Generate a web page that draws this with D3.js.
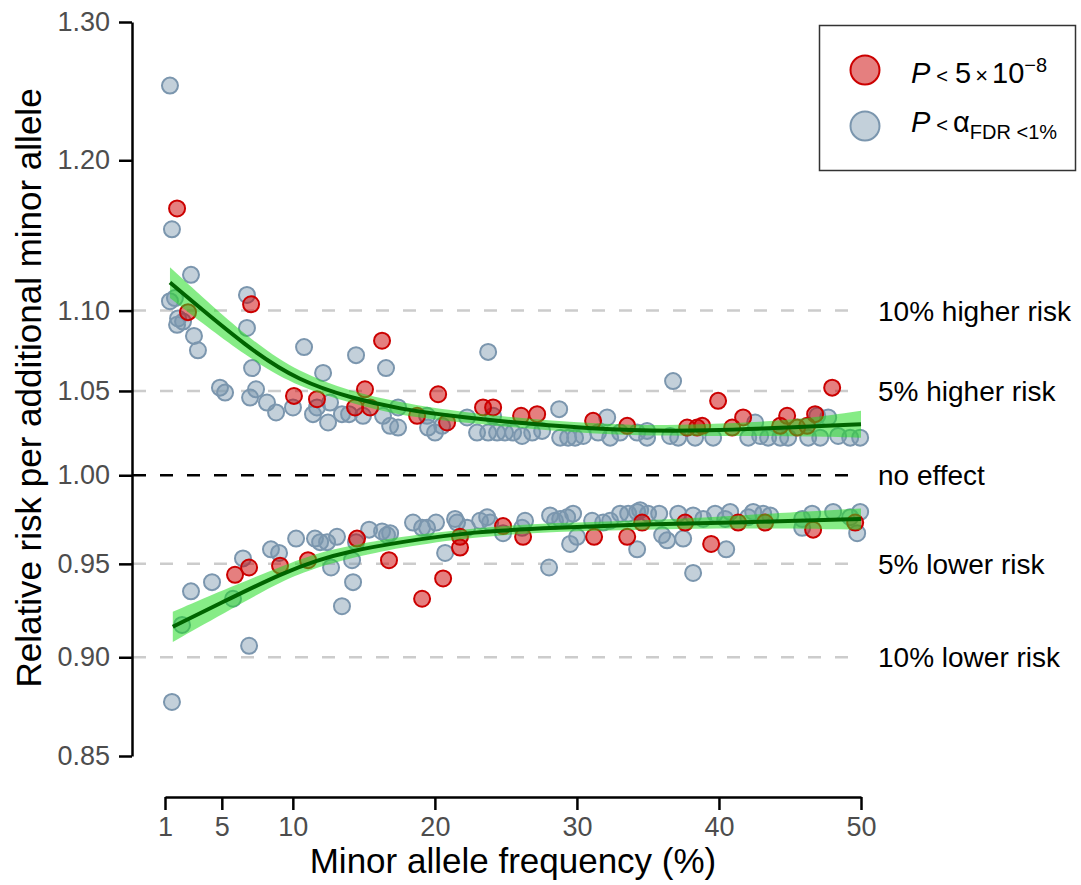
<!DOCTYPE html>
<html>
<head>
<meta charset="utf-8">
<script src="https://cdn.jsdelivr.net/npm/d3@7"></script>
<style>
body { margin: 0; background: #fff; }
text { font-family: "Liberation Sans", Arial, Helvetica, sans-serif; }
</style>
</head>
<body>
<svg class="chart" width="1081" height="885"></svg>
<script>

// points: [minor allele frequency %, relative risk]
var grayUpper = [
  [1.35,1.253],[1.49,1.153],[2.83,1.123],[1.35,1.106],[1.70,1.108],[1.92,1.095],[1.85,1.091],[2.27,1.093],
  [3.04,1.084],[3.32,1.075],[6.77,1.110],[6.77,1.089],[7.13,1.064],[10.79,1.077],[12.13,1.061],[14.45,1.072],
  [16.56,1.064],[4.87,1.052],[5.23,1.049],[6.99,1.046],[7.41,1.051],[8.18,1.043],[8.82,1.037],[10.01,1.040],
  [11.42,1.036],[11.70,1.040],[12.48,1.031],[12.62,1.043],[13.46,1.036],[13.96,1.036],[14.94,1.035],[16.35,1.035],
  [16.85,1.029],[17.41,1.028],[17.41,1.040],[23.75,1.074],[19.45,1.035],[19.52,1.028],[20.01,1.025],[20.51,1.029],
  [22.27,1.034],[22.97,1.025],[24.10,1.035],[23.75,1.025],[24.38,1.025],[24.94,1.025],[25.51,1.025],[26.14,1.023],
  [26.85,1.025],[27.55,1.026],[28.75,1.039],[28.82,1.022],[29.38,1.022],[29.87,1.022],[30.44,1.023],[31.49,1.025],
  [32.13,1.034],[32.34,1.022],[33.04,1.025],[34.24,1.025],[34.94,1.026],[34.94,1.022],[36.77,1.056],[36.56,1.023],
  [37.13,1.022],[38.32,1.022],[39.59,1.022],[42.55,1.031],[42.06,1.022],[42.90,1.023],[43.46,1.022],[44.87,1.022],
  [44.31,1.022],[46.92,1.035],[47.69,1.034],[46.28,1.022],[47.13,1.022],[48.39,1.023],[49.24,1.022],[49.94,1.022]
];

var redUpper = [
  [1.85,1.167],[2.62,1.099],[7.06,1.104],[16.28,1.081],[15.08,1.051],[10.08,1.047],[11.70,1.045],[14.38,1.040],
  [15.44,1.040],[20.23,1.048],[18.75,1.035],[20.86,1.031],[23.39,1.040],[24.10,1.040],[26.07,1.035],[27.20,1.036],
  [31.14,1.032],[33.54,1.029],[39.94,1.044],[37.76,1.028],[38.46,1.028],[38.82,1.029],[40.93,1.028],[41.70,1.034],
  [44.31,1.029],[44.80,1.035],[45.51,1.028],[46.77,1.036],[47.97,1.052],[46.21,1.029]
];

var grayLower = [
  [1.49,0.877],[2.20,0.917],[2.83,0.935],[4.31,0.940],[6.49,0.953],[5.79,0.931],[6.92,0.906],[8.46,0.958],
  [9.03,0.956],[10.23,0.964],[11.56,0.964],[11.92,0.962],[12.41,0.962],[13.11,0.965],[12.69,0.948],[13.46,0.927],
  [14.17,0.952],[14.24,0.940],[14.45,0.962],[15.37,0.969],[16.28,0.968],[16.63,0.966],[16.85,0.967],[18.46,0.973],
  [19.10,0.970],[19.45,0.970],[20.08,0.973],[20.72,0.956],[21.42,0.975],[21.56,0.973],[22.27,0.970],[23.18,0.974],
  [23.68,0.976],[23.89,0.973],[24.80,0.967],[26.35,0.974],[26.14,0.970],[28.11,0.977],[28.46,0.974],[28.82,0.975],
  [29.31,0.976],[29.73,0.978],[28.04,0.948],[29.52,0.961],[30.01,0.965],[31.07,0.974],[31.85,0.973],[32.34,0.974],
  [33.04,0.978],[33.61,0.978],[34.24,0.979],[34.24,0.958],[34.45,0.980],[35.01,0.978],[35.79,0.978],[36.00,0.966],
  [36.35,0.963],[37.13,0.978],[37.48,0.964],[38.18,0.977],[38.89,0.975],[38.18,0.945],[39.73,0.978],[40.44,0.975],
  [40.79,0.979],[40.51,0.958],[42.06,0.976],[42.41,0.979],[43.11,0.978],[43.61,0.977],[45.86,0.975],[46.56,0.978],
  [45.86,0.970],[48.04,0.979],[49.24,0.976],[49.94,0.979],[49.73,0.967]
];

var redLower = [
  [5.93,0.944],[6.92,0.948],[9.10,0.949],[11.07,0.952],[14.52,0.964],[16.77,0.952],[19.10,0.931],[20.58,0.942],
  [21.77,0.959],[21.77,0.965],[24.80,0.971],[26.21,0.965],[31.21,0.965],[33.54,0.965],[34.59,0.973],[37.62,0.973],
  [39.45,0.961],[41.35,0.973],[43.25,0.973],[46.63,0.969],[49.59,0.973]
];

// smooth fits with confidence bands
var upperFitMaf = [1.35, 7, 10.5, 14, 17.5, 22, 28, 34, 39, 45, 50];
var upperFit = [1.118, 1.075, 1.056, 1.046, 1.039, 1.034, 1.029, 1.026, 1.026, 1.028, 1.030];
var upperLo  = [1.108, 1.069, 1.052, 1.043, 1.035, 1.031, 1.026, 1.023, 1.023, 1.023, 1.022];
var upperHi  = [1.128, 1.081, 1.061, 1.050, 1.043, 1.037, 1.032, 1.029, 1.030, 1.032, 1.038];

var lowerFitMaf = [1.55, 5.8, 9.3, 11.7, 14, 17.5, 22.7, 28.6, 34.5, 41.5, 50];
var lowerFit = [0.916, 0.932, 0.945, 0.952, 0.957, 0.962, 0.968, 0.970, 0.972, 0.973, 0.975];
var lowerLo  = [0.908, 0.926, 0.941, 0.948, 0.953, 0.959, 0.965, 0.968, 0.969, 0.970, 0.969];
var lowerHi  = [0.924, 0.938, 0.949, 0.956, 0.960, 0.965, 0.970, 0.973, 0.974, 0.977, 0.981];

var refValues = [1.10, 1.05, 1.00, 0.95, 0.90];
var refLabels = ["10% higher risk", "5% higher risk", "no effect", "5% lower risk", "10% lower risk"];

var xTicks = [1, 5, 10, 20, 30, 40, 50];
var yTicks = [0.85, 0.90, 0.95, 1.00, 1.05, 1.10, 1.20, 1.30];


var x = d3.scaleLinear()
    .domain([1, 50])
    .range([165, 861]);

var y = d3.scaleLog()
    .domain([0.85, 1.30])
    .range([756, 22]);

var chart = d3.select(".chart");

// reference lines
chart.selectAll(".ref")
    .data(refValues)
    .enter().append("line")
      .attr("class", "ref")
      .attr("x1", 133)
      .attr("x2", 860)
      .attr("y1", function(d) { return y(d); })
      .attr("y2", function(d) { return y(d); })
      .attr("stroke", function(d) { return d === 1 ? "#000" : "#cccccc"; })
      .attr("stroke-width", 2.5)
      .attr("stroke-dasharray", "13,14");

chart.selectAll(".reflabel")
    .data(refValues)
    .enter().append("text")
      .attr("class", "reflabel")
      .attr("x", 878)
      .attr("y", function(d) { return y(d); })
      .attr("dy", "0.36em")
      .style("font-size", "28px")
      .text(function(d, i) { return refLabels[i]; });

function drawPoints(data, fill, stroke) {
  chart.append("g")
    .selectAll("circle")
    .data(data)
    .enter().append("circle")
      .attr("cx", function(d) { return x(d[0]); })
      .attr("cy", function(d) { return y(d[1]); })
      .attr("r", 8)
      .attr("fill", fill)
      .attr("stroke", stroke)
      .attr("stroke-width", 2);
}

var grayFill = "rgba(122,150,174,0.45)", grayStroke = "#7b96ae";
var redFill = "rgba(204,0,0,0.5)", redStroke = "#cc0000";

drawPoints(grayUpper, grayFill, grayStroke);
drawPoints(grayLower, grayFill, grayStroke);
drawPoints(redUpper, redFill, redStroke);
drawPoints(redLower, redFill, redStroke);

function drawFit(maf, fit, lo, hi) {
  var rows = maf.map(function(m, i) { return {maf: m, fit: fit[i], lo: lo[i], hi: hi[i]}; });

  var band = d3.area()
      .curve(d3.curveBasis)
      .x(function(d) { return x(d.maf); })
      .y0(function(d) { return y(d.lo); })
      .y1(function(d) { return y(d.hi); });

  var line = d3.line()
      .curve(d3.curveBasis)
      .x(function(d) { return x(d.maf); })
      .y(function(d) { return y(d.fit); });

  chart.append("path")
      .datum(rows)
      .attr("d", band)
      .attr("fill", "#22dd22")
      .attr("fill-opacity", 0.55);

  chart.append("path")
      .datum(rows)
      .attr("d", line)
      .attr("fill", "none")
      .attr("stroke", "#006400")
      .attr("stroke-width", 4);
}

drawFit(upperFitMaf, upperFit, upperLo, upperHi);
drawFit(lowerFitMaf, lowerFit, lowerLo, lowerHi);

// axes
var yAxis = d3.axisLeft(y)
    .tickValues(yTicks)
    .tickFormat(d3.format(".2f"))
    .tickSize(13)
    .tickSizeOuter(0)
    .tickPadding(9);

var xAxis = d3.axisBottom(x)
    .tickValues(xTicks)
    .tickFormat(d3.format("d"))
    .tickSize(13)
    .tickSizeOuter(0)
    .tickPadding(7);

chart.append("g")
    .attr("class", "y axis")
    .attr("transform", "translate(132,0)")
    .call(yAxis);

chart.append("g")
    .attr("class", "x axis")
    .attr("transform", "translate(0,797)")
    .call(xAxis);

chart.selectAll(".axis path, .axis line")
    .attr("stroke", "#000")
    .attr("stroke-width", 2.5);

chart.selectAll(".axis text")
    .attr("fill", "#4d4d4d")
    .style("font-size", "27px")
    .style("font-family", "'Liberation Sans', Arial, sans-serif");

chart.append("text")
    .attr("x", 513)
    .attr("y", 873)
    .attr("text-anchor", "middle")
    .style("font-size", "35px")
    .text("Minor allele frequency (%)");

chart.append("text")
    .attr("transform", "translate(41,388) rotate(-90)")
    .attr("text-anchor", "middle")
    .style("font-size", "35px")
    .text("Relative risk per additional minor allele");

// legend
var legend = chart.append("g").attr("class", "legend");

legend.append("rect")
    .attr("x", 819.5)
    .attr("y", 25.5)
    .attr("width", 256)
    .attr("height", 145)
    .attr("fill", "#fff")
    .attr("stroke", "#333")
    .attr("stroke-width", 1.5);

legend.append("circle")
    .attr("cx", 865).attr("cy", 70).attr("r", 14.5)
    .attr("fill", redFill).attr("stroke", redStroke).attr("stroke-width", 2);

legend.append("circle")
    .attr("cx", 865).attr("cy", 126).attr("r", 14.5)
    .attr("fill", grayFill).attr("stroke", grayStroke).attr("stroke-width", 2);

var t1 = legend.append("text").attr("x", 911).attr("y", 83).style("font-size", "29px");
t1.append("tspan").style("font-style", "italic").text("P");
t1.append("tspan").attr("dx", 6).style("font-size", "20px").text("<");
t1.append("tspan").attr("dx", 7).text("5");
t1.append("tspan").attr("dx", 4).style("font-size", "22px").text("\u00d7");
t1.append("tspan").attr("dx", 4).text("10");
t1.append("tspan").attr("dy", -11).style("font-size", "20px").text("\u22128");

var t2 = legend.append("text").attr("x", 911).attr("y", 132).style("font-size", "29px");
t2.append("tspan").style("font-style", "italic").text("P");
t2.append("tspan").attr("dx", 6).style("font-size", "20px").text("<");
t2.append("tspan").attr("dx", 5).text("\u03b1");
t2.append("tspan").attr("dy", 7).style("font-size", "20px").text("FDR <1%");

</script>
</body>
</html>
